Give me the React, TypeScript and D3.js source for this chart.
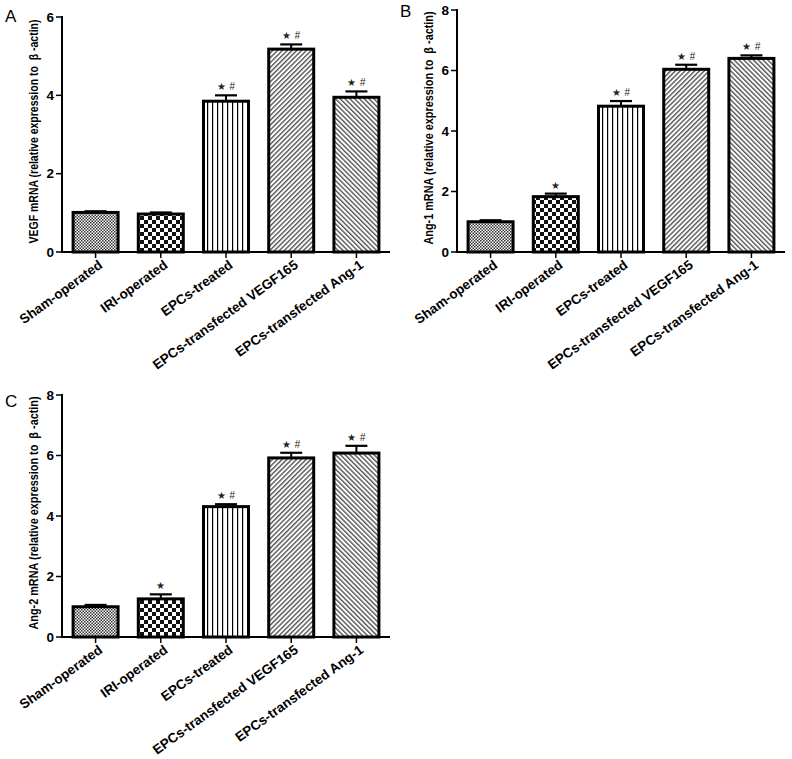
import React from "react";
import * as d3 from "d3";

const categories = [
  "Sham-operated",
  "IRI-operated",
  "EPCs-treated",
  "EPCs-transfected VEGF165",
  "EPCs-transfected Ang-1",
];
const patternIds = ["pFine", "pChecker", "pVert", "pDiagR", "pDiagL"];

const vegfMeans = [1.01, 0.97, 3.85, 5.18, 3.95];
const vegfErr = [0.03, 0.04, 0.15, 0.12, 0.15];
const vegfSig = ["", "", "*#", "*#", "*#"];
const vegfTicks = [0, 2, 4, 6];

const ang1Means = [1.0, 1.83, 4.82, 6.04, 6.4];
const ang1Err = [0.05, 0.1, 0.17, 0.15, 0.1];
const ang1Sig = ["", "*", "*#", "*#", "*#"];
const ang1Ticks = [0, 2, 4, 6, 8];

const ang2Means = [1.0, 1.26, 4.31, 5.92, 6.08];
const ang2Err = [0.06, 0.15, 0.08, 0.17, 0.24];
const ang2Sig = ["", "*", "*#", "*#", "*#"];
const ang2Ticks = [0, 2, 4, 6, 8];

const FONT = "'Liberation Sans', Arial, Helvetica, sans-serif";

type PanelProps = {
  letter: string;
  letterX: number;
  letterY: number;
  x0: number;
  x1: number;
  yTop: number;
  yBottom: number;
  yMax: number;
  ticks: number[];
  means: number[];
  errs: number[];
  sig: string[];
  yLabel: string;
  yLabelX: number;
  yLabelScale: number;
};

function Sig({ cx, y, s }: { cx: number; y: number; s: string }) {
  const hasStar = s.includes("*");
  const hasHash = s.includes("#");
  if (hasStar && hasHash) {
    return (
      <g fill="#222" fontFamily={FONT}>
        <text x={cx - 5} y={y} textAnchor="middle" fontSize={10}>★</text>
        <text x={cx + 6} y={y} textAnchor="middle" fontSize={10} fontStyle="italic">#</text>
      </g>
    );
  }
  if (hasStar) {
    return (
      <text x={cx} y={y} textAnchor="middle" fontSize={10} fill="#222" fontFamily={FONT}>★</text>
    );
  }
  return null;
}

function Panel(p: PanelProps) {
  const x = d3
    .scaleBand<string>()
    .domain(categories)
    .range([p.x0, p.x1])
    .paddingInner(0.31)
    .paddingOuter(0.17);
  const y = d3.scaleLinear().domain([0, p.yMax]).range([p.yBottom, p.yTop]);
  const bw = x.bandwidth();
  const yMid = (p.yTop + p.yBottom) / 2 - 3;
  return (
    <g>
      <text x={p.letterX} y={p.letterY} fontSize={17} fontFamily={FONT}>
        {p.letter}
      </text>
      <text
        transform={`translate(${p.yLabelX},${yMid}) rotate(-90) scale(${p.yLabelScale},1)`}
        textAnchor="middle"
        fontSize={12.5}
        fontWeight="bold"
        fontFamily={FONT}
        style={{ whiteSpace: "pre" }}
      >
        {p.yLabel}
      </text>
      {categories.map((c, i) => {
        const bx = x(c) as number;
        const top = y(p.means[i]);
        const etop = y(p.means[i] + p.errs[i]);
        const cx = bx + bw / 2;
        return (
          <g key={c}>
            <line x1={cx} x2={cx} y1={top} y2={etop} stroke="#000" strokeWidth={2} />
            <line x1={cx - 11} x2={cx + 11} y1={etop} y2={etop} stroke="#000" strokeWidth={2.2} />
            <rect
              x={bx}
              y={top}
              width={bw}
              height={p.yBottom - top}
              fill={`url(#${patternIds[i]})`}
              stroke="#000"
              strokeWidth={3}
            />
            {p.sig[i] && <Sig cx={cx} y={etop - 5} s={p.sig[i]} />}
            <line x1={cx} x2={cx} y1={p.yBottom} y2={p.yBottom + 6} stroke="#000" strokeWidth={1.5} />
            <text
              transform={`translate(${cx + 5},${p.yBottom + 11}) rotate(-36)`}
              textAnchor="end"
              fontSize={13.5}
              fontWeight="bold"
              fontFamily={FONT}
              dy="0.35em"
            >
              {c}
            </text>
          </g>
        );
      })}
      <line x1={p.x0} x2={p.x0} y1={p.yTop - 1} y2={p.yBottom + 1} stroke="#000" strokeWidth={2} />
      <line x1={p.x0 - 1} x2={p.x1} y1={p.yBottom} y2={p.yBottom} stroke="#000" strokeWidth={2} />
      {p.ticks.map((t) => (
        <g key={t}>
          <line x1={p.x0 - 6} x2={p.x0} y1={y(t)} y2={y(t)} stroke="#000" strokeWidth={1.5} />
          <text
            x={p.x0 - 8}
            y={y(t)}
            dy="0.35em"
            textAnchor="end"
            fontSize={13.5}
            fontWeight="bold"
            fontFamily={FONT}
          >
            {t}
          </text>
        </g>
      ))}
    </g>
  );
}

export default function App() {
  return (
    <svg
      width={792}
      height={759}
      style={{ position: "absolute", left: 0, top: 0, background: "#fff" }}
    >
      <defs>
        <pattern id="pFine" patternUnits="userSpaceOnUse" width={3} height={3}>
          <rect width={3} height={3} fill="#fff" />
          <rect x={0} y={0} width={1.5} height={1.5} fill="#333" />
          <rect x={1.5} y={1.5} width={1.5} height={1.5} fill="#333" />
        </pattern>
        <pattern id="pChecker" patternUnits="userSpaceOnUse" width={8} height={8}>
          <rect width={8} height={8} fill="#111" />
          <rect x={0} y={0} width={4} height={4} fill="#fff" />
          <rect x={4} y={4} width={4} height={4} fill="#fff" />
        </pattern>
        <pattern id="pVert" patternUnits="userSpaceOnUse" width={5} height={5}>
          <rect width={5} height={5} fill="#fff" />
          <rect x={2} y={0} width={1.2} height={5} fill="#000" />
        </pattern>
        <pattern
          id="pDiagR"
          patternUnits="userSpaceOnUse"
          width={3.4}
          height={3.4}
          patternTransform="rotate(45)"
        >
          <rect width={3.4} height={3.4} fill="#fff" />
          <rect x={0} y={0} width={1.4} height={3.4} fill="#555" />
        </pattern>
        <pattern
          id="pDiagL"
          patternUnits="userSpaceOnUse"
          width={3.4}
          height={3.4}
          patternTransform="rotate(-45)"
        >
          <rect width={3.4} height={3.4} fill="#fff" />
          <rect x={0} y={0} width={1.4} height={3.4} fill="#555" />
        </pattern>
      </defs>
      <Panel
        letter="A"
        letterX={5}
        letterY={22}
        x0={62}
        x1={390}
        yTop={17}
        yBottom={252}
        yMax={6}
        ticks={vegfTicks}
        means={vegfMeans}
        errs={vegfErr}
        sig={vegfSig}
        yLabel="VEGF mRNA (relative expression to  β -actin)"
        yLabelX={38}
        yLabelScale={0.84}
      />
      <Panel
        letter="B"
        letterX={400}
        letterY={17}
        x0={457}
        x1={785}
        yTop={10}
        yBottom={252}
        yMax={8}
        ticks={ang1Ticks}
        means={ang1Means}
        errs={ang1Err}
        sig={ang1Sig}
        yLabel="Ang-1 mRNA (relative expression to  β -actin)"
        yLabelX={433}
        yLabelScale={0.87}
      />
      <Panel
        letter="C"
        letterX={5}
        letterY={407}
        x0={62}
        x1={390}
        yTop={395}
        yBottom={637}
        yMax={8}
        ticks={ang2Ticks}
        means={ang2Means}
        errs={ang2Err}
        sig={ang2Sig}
        yLabel="Ang-2 mRNA (relative expression to  β -actin)"
        yLabelX={38}
        yLabelScale={0.87}
      />
    </svg>
  );
}
